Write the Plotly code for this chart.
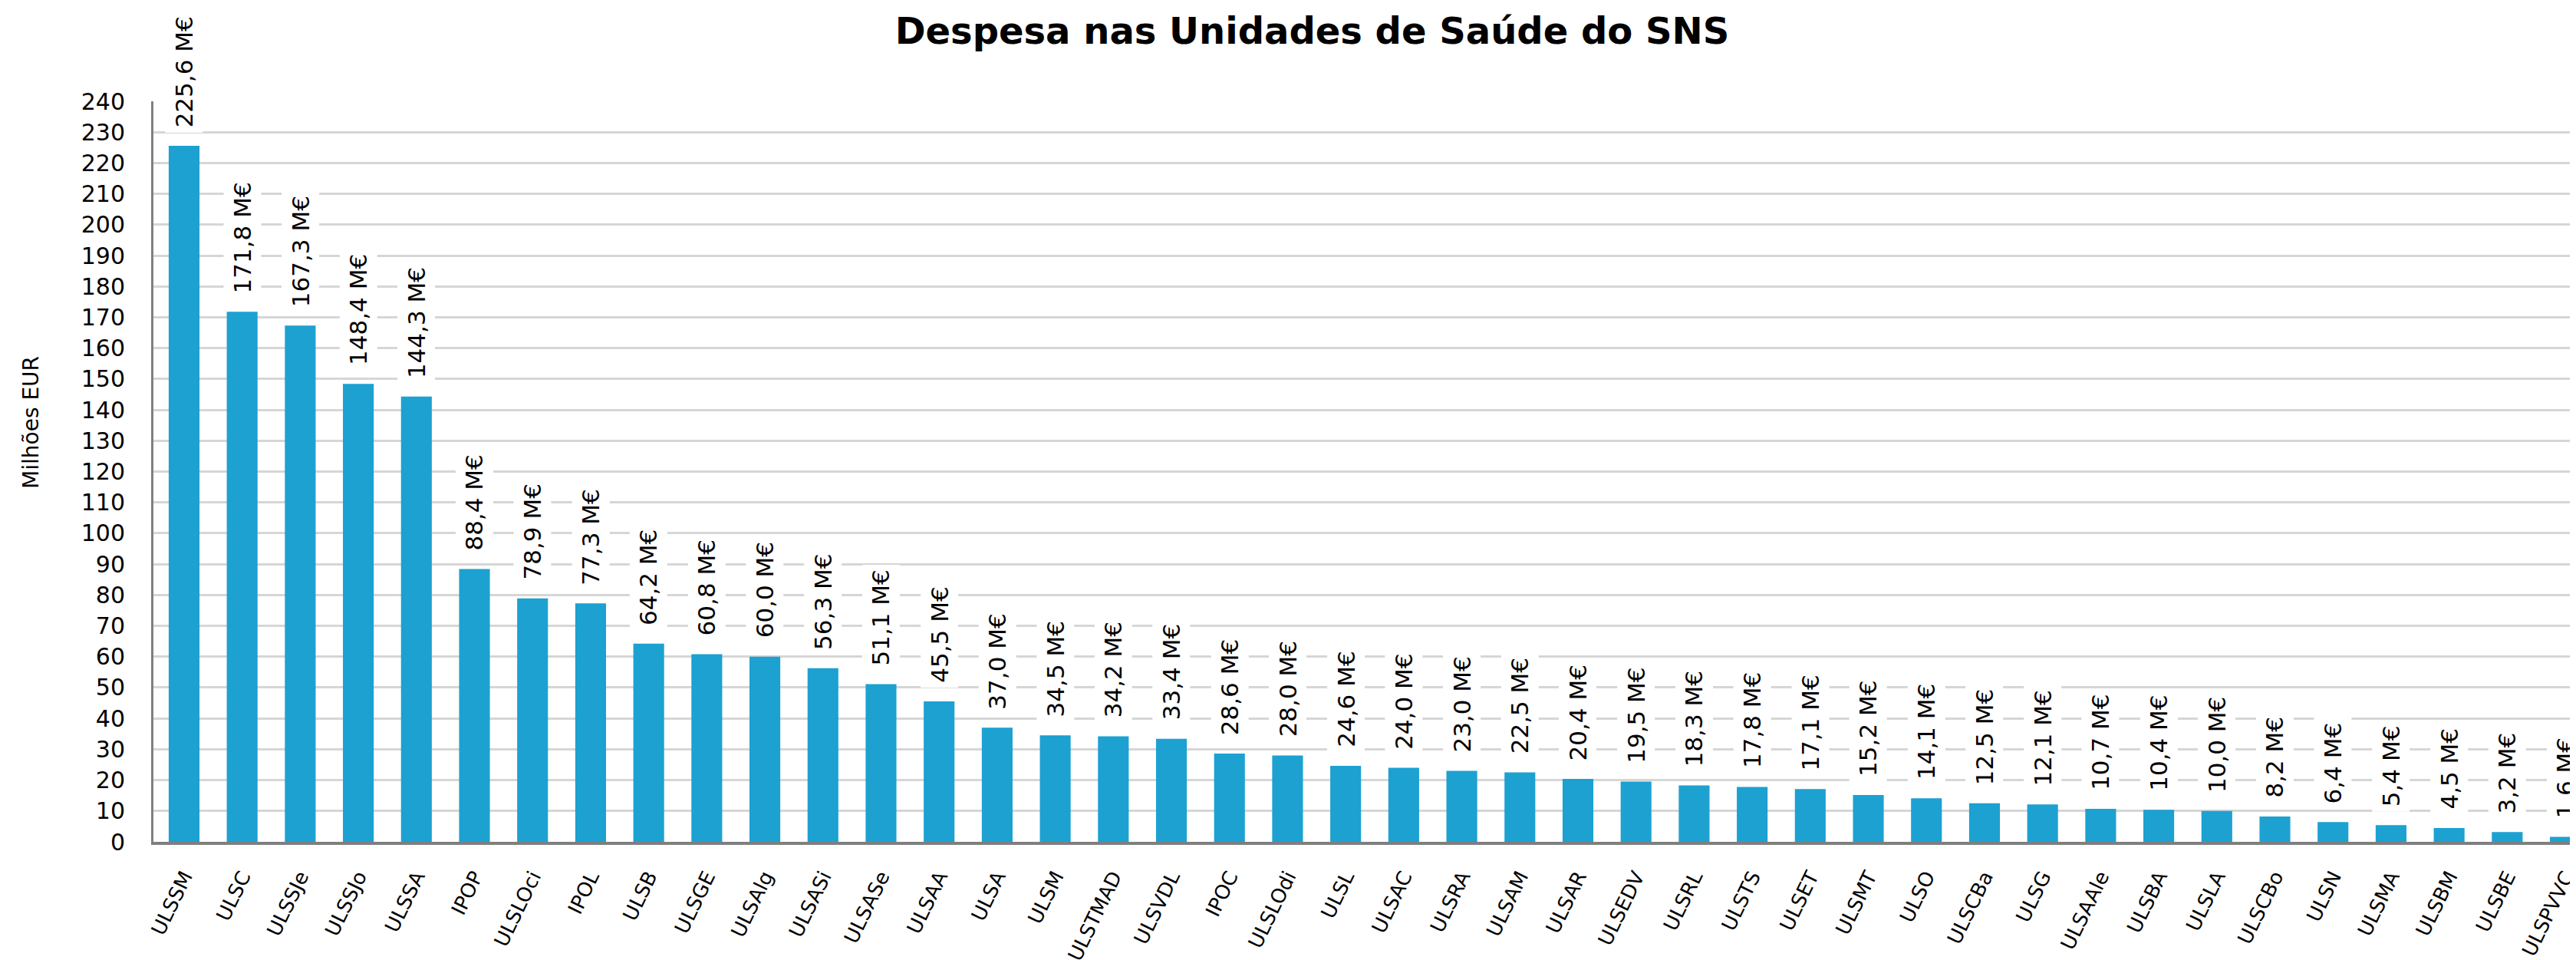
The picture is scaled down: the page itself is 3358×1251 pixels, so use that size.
import plotly.graph_objects as go

categories = ["ULSSM", "ULSC", "ULSSJe", "ULSSJo", "ULSSA", "IPOP", "ULSLOci", "IPOL", "ULSB", "ULSGE",
              "ULSAlg", "ULSASi", "ULSASe", "ULSAA", "ULSA", "ULSM", "ULSTMAD", "ULSVDL", "IPOC", "ULSLOdi",
              "ULSL", "ULSAC", "ULSRA", "ULSAM", "ULSAR", "ULSEDV", "ULSRL", "ULSTS", "ULSET", "ULSMT",
              "ULSO", "ULSCBa", "ULSG", "ULSAAle", "ULSBA", "ULSLA", "ULSCBo", "ULSN", "ULSMA", "ULSBM",
              "ULSBE", "ULSPVVC"]
values = [225.6, 171.8, 167.3, 148.4, 144.3, 88.4, 78.9, 77.3, 64.2, 60.8,
          60.0, 56.3, 51.1, 45.5, 37.0, 34.5, 34.2, 33.4, 28.6, 28.0,
          24.6, 24.0, 23.0, 22.5, 20.4, 19.5, 18.3, 17.8, 17.1, 15.2,
          14.1, 12.5, 12.1, 10.7, 10.4, 10.0, 8.2, 6.4, 5.4, 4.5,
          3.2, 1.6]
y_ticks = list(range(0, 241, 10))
title = "Despesa nas Unidades de Saúde do SNS"
y_title = "Milhões EUR"

labels = [f"{v:.1f}".replace(".", ",") + " M€" for v in values]

FONT = "DejaVu Sans"
BAR = "#1CA1D1"

fig = go.Figure()
fig.add_trace(go.Bar(x=categories, y=values, marker=dict(color=BAR, line=dict(width=0)),
                     showlegend=False))

annotations = []
for c, v, t in zip(categories, values, labels):
    annotations.append(dict(x=c, y=v, text=t, textangle=-90, showarrow=False,
                            xanchor="center", yanchor="bottom", yshift=17,
                            bgcolor="white", borderpad=6,
                            font=dict(family=FONT, size=31, color="black")))

annotations.append(dict(xref="paper", yref="paper", x=-0.0502, y=0.566, text=y_title,
                        textangle=-90, showarrow=False, xanchor="center", yanchor="middle",
                        font=dict(family=FONT, size=28, color="black")))

fig.update_layout(
    width=3358, height=1251,
    margin=dict(l=192, r=0, t=124, b=162, autoexpand=False),
    paper_bgcolor="white", plot_bgcolor="white",
    bargap=0.47,
    title=dict(text=f"<b>{title}</b>", x=0.507, xanchor="center", y=0.974, yanchor="middle",
               font=dict(family=FONT, size=48, color="black")),
    xaxis=dict(range=[-0.528, 41.29], tickangle=-64, showgrid=False, automargin=False,
               showline=True, linecolor="#7f7f7f", linewidth=4,
               tickfont=dict(family=FONT, size=26, color="black"), ticks="",
               ticklabelstandoff=16),
    yaxis=dict(range=[0, 240], tickvals=y_ticks, showgrid=True, gridcolor="#d6d6d6", gridwidth=3,
               showline=True, linecolor="#808080", linewidth=3, zeroline=False, automargin=False,
               tickfont=dict(family=FONT, size=30, color="black"), ticks="",
               ticklabelstandoff=28),
    annotations=annotations,
)

fig.write_html("out.html")
